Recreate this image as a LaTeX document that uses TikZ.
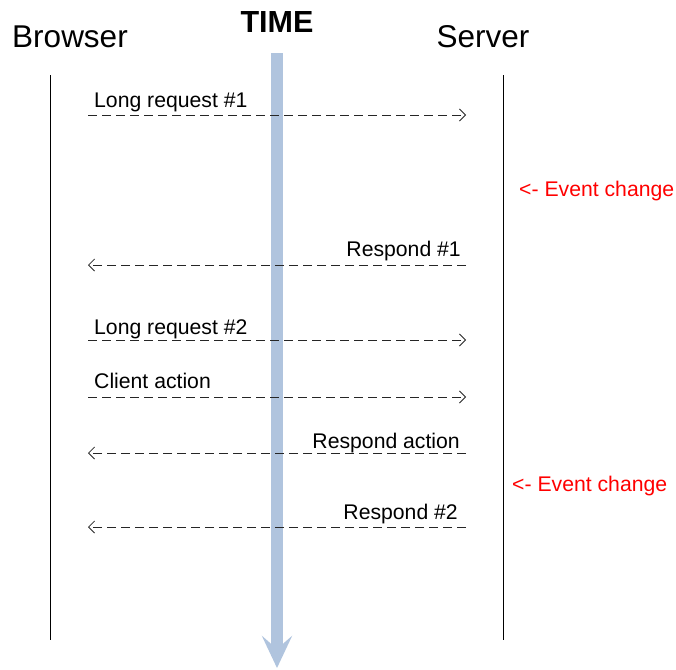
\documentclass[tikz,border=0pt]{standalone}
\usepackage{fontspec}
\setmainfont{Liberation Sans}
\usetikzlibrary{arrows.meta}
\definecolor{timeblue}{HTML}{B0C4DE}
\tikzset{
  head/.style={font=\fontsize{31.5}{36}\selectfont, inner sep=0pt, anchor=base},
  msg/.style={font=\fontsize{21.2}{24}\selectfont, inner sep=0pt},
  evt/.style={font=\fontsize{21.2}{24}\selectfont, inner sep=0pt, anchor=base west, text=red},
  life/.style={line width=0.9pt, black},
  call/.style={dash pattern=on 9pt off 5pt, line width=0.8pt, black!85, -{Straight Barb[length=6pt,width=12pt,line width=0.8pt]}},
  timebar/.style={line width=12pt, timeblue, -{Stealth[length=32pt,width=30pt,inset=13pt]}}
}
\begin{document}
\begin{tikzpicture}[x=1pt,y=-1pt]
\useasboundingbox (0,0) rectangle (676,669);
% headings
\node[head] (browser) at (70,48) {Browser};
\node[head] (server) at (483,48) {Server};
\node[head, font=\fontsize{30.5}{36}\selectfont\bfseries] (time) at (277,33) {TIME};
% lifelines
\coordinate (bt) at (50,75); \coordinate (bb) at (50,640);
\coordinate (st) at (503,75); \coordinate (sb) at (503,640);
\draw[life] (bt) -- (bb);
\draw[life] (st) -- (sb);
% time bar
\coordinate (tt) at (277,53); \coordinate (tb) at (277,668);
\draw[timebar] (tt) -- (tb);
% messages
\coordinate (l1) at (88,115); \coordinate (r1) at (466,115);
\coordinate (l2) at (88,265); \coordinate (r2) at (466,265);
\coordinate (l3) at (88,340); \coordinate (r3) at (466,340);
\coordinate (l4) at (88,397); \coordinate (r4) at (466,397);
\coordinate (l5) at (88,453); \coordinate (r5) at (466,453);
\coordinate (l6) at (88,527); \coordinate (r6) at (466,527);
\draw[call] (l1) -- (r1);
\draw[call] (r2) -- (l2);
\draw[call] (l3) -- (r3);
\draw[call] (l4) -- (r4);
\draw[call] (r5) -- (l5);
\draw[call] (r6) -- (l6);
\node[msg, anchor=base west] (m1) at (94,107) {Long request \#1};
\node[msg, anchor=base east] (m2) at (461,256) {Respond \#1};
\node[msg, anchor=base west] (m3) at (94,334) {Long request \#2};
\node[msg, anchor=base west] (m4) at (94,388) {Client action};
\node[msg, anchor=base east] (m5) at (460,448) {Respond action};
\node[msg, anchor=base east] (m6) at (458,519) {Respond \#2};
% events
\node[evt] (e1) at (519,196) {<- Event change};
\node[evt] (e2) at (512,491) {<- Event change};
\end{tikzpicture}
\end{document}
